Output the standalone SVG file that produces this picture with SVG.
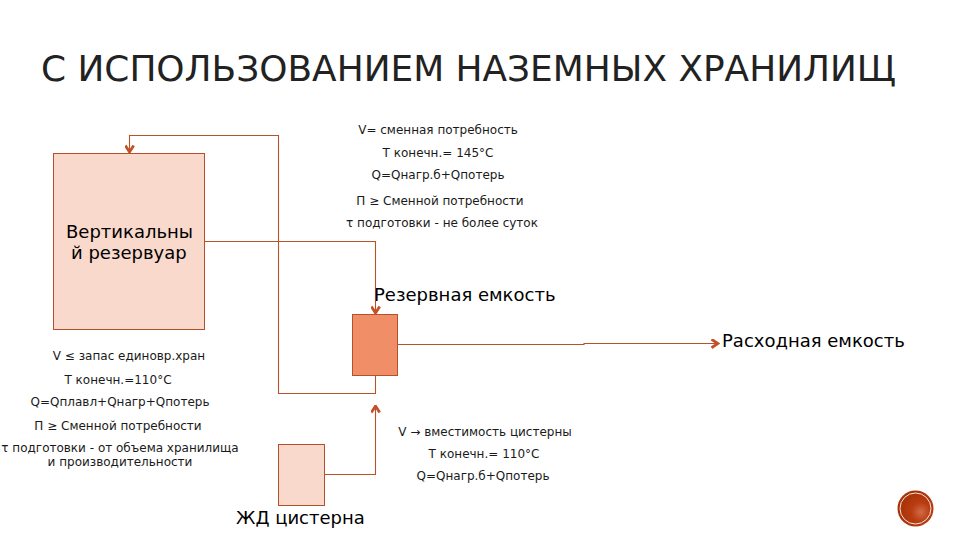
<svg xmlns="http://www.w3.org/2000/svg" width="960" height="540" viewBox="0 0 960 540">
<style>
text{font-family:"DejaVu Sans",sans-serif;fill:#000}
.s{font-size:12px;text-anchor:middle;fill:#1a1a1a}
.m{font-size:18px}
.c{fill:none;stroke:#b85327;stroke-width:1.1}
.n{stroke:#b5502a;stroke-width:1}
</style>
<defs>
<marker id="a" viewBox="0 0 10 10" refX="9.500" refY="5" markerWidth="10" markerHeight="10" markerUnits="userSpaceOnUse" orient="auto"><path d="M2 .8L8.500 5L2 9.200" fill="none" stroke="#c4502a" stroke-width="2.800"/></marker>
<radialGradient id="g" cx=".65" cy=".6" r=".6"><stop offset="0" stop-color="#cf6c48"/><stop offset=".45" stop-color="#b93c12"/><stop offset="1" stop-color="#a83208"/></radialGradient>
</defs>
<rect width="960" height="540" fill="#fff"/>
<text x="41" y="81" font-size="35.900px" style="fill:#222">С ИСПОЛЬЗОВАНИЕМ НАЗЕМНЫХ ХРАНИЛИЩ</text>
<g id="connectors">
<path class="c" d="M375.500 375V393.500H278.500V135.500H129.500V153" marker-end="url(#a)"/>
<path class="c" d="M204.500 241.500H375.500V314" marker-end="url(#a)"/>
<path class="c" d="M398 344.500H584V343.500H719" marker-end="url(#a)"/>
<path class="c" d="M324.500 474.500H375.500V405" marker-end="url(#a)"/>
</g>
<g id="tank"><rect class="n" x="53.500" y="153.500" width="151" height="176" fill="#f8d9cc"/>
<text class="m" x="66" y="238">Вертикальны</text><text class="m" x="71" y="259">й резервуар</text></g>
<g id="reserve"><rect class="n" x="352.500" y="314.500" width="45" height="61" fill="#f08e68"/>
<text class="m" x="374" y="301">Резервная емкость</text></g>
<g id="cistern"><rect class="n" x="278.500" y="444.500" width="46" height="61" fill="#f9d9cc"/>
<text class="m" x="236" y="524">ЖД цистерна</text></g>
<g id="consumable"><text class="m" x="722" y="347">Расходная емкость</text></g>
<g id="top-notes">
<text class="s" x="438" y="134">V= сменная потребность</text>
<text class="s" x="438" y="157">Т конечн.= 145°С</text>
<text class="s" x="438" y="179">Q=Qнагр.б+Qпотерь</text>
<text class="s" x="440" y="205">П ≥ Сменной потребности</text>
<text class="s" x="442" y="227">τ подготовки - не более суток</text>
</g>
<g id="left-notes">
<text class="s" x="129" y="360">V ≤ запас единовр.хран</text>
<text class="s" x="118" y="384">Т конечн.=110°С</text>
<text class="s" x="120" y="406">Q=Qплавл+Qнагр+Qпотерь</text>
<text class="s" x="118" y="430">П ≥ Сменной потребности</text>
<text class="s" x="120" y="452">τ подготовки - от объема хранилища</text>
<text class="s" x="120" y="466">и производительности</text>
</g>
<g id="bottom-notes">
<text class="s" x="485" y="436">V → вместимость цистерны</text>
<text class="s" x="484" y="458">Т конечн.= 110°С</text>
<text class="s" x="483" y="480">Q=Qнагр.б+Qпотерь</text>
</g>
<g id="badge"><circle cx="915.500" cy="508.500" r="18" fill="url(#g)"/><circle cx="915.500" cy="508.500" r="15.500" fill="none" stroke="#f6e4dc" stroke-width="1"/></g>
</svg>
